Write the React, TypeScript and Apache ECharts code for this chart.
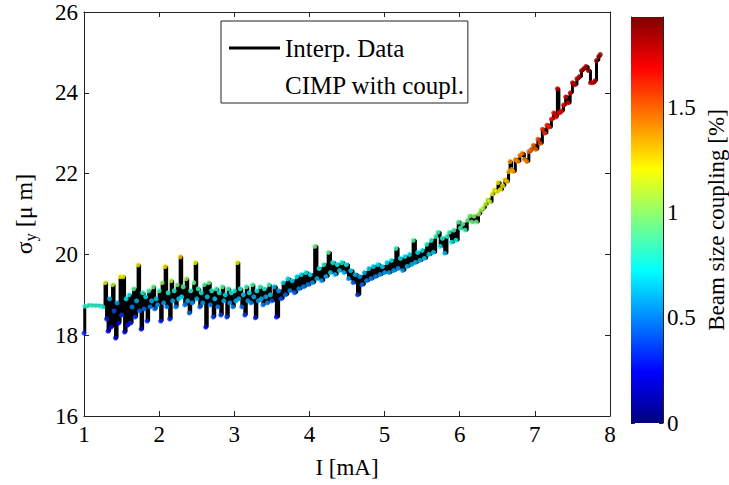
import React, { useEffect, useRef } from "react";
import * as echarts from "echarts";

const FONT = "'Liberation Serif', 'Times New Roman', serif";

// Beam current I [mA]
const currentmA = [
  1.00, 1.01, 1.06, 1.11, 1.16, 1.21, 1.25,
  1.28, 1.30, 1.32, 1.34, 1.36, 1.38, 1.40, 1.42, 1.44, 1.46,
  1.48, 1.50, 1.52, 1.54, 1.56, 1.58, 1.60, 1.62, 1.64, 1.66,
  1.68, 1.70, 1.72, 1.74, 1.76, 1.78, 1.80, 1.82, 1.84, 1.86,
  1.88, 1.90, 1.92, 1.94, 1.96, 1.98, 2.00, 2.02, 2.04, 2.06,
  2.08, 2.10, 2.12, 2.14, 2.16, 2.18, 2.20, 2.22, 2.24, 2.26,
  2.28, 2.30, 2.32, 2.34, 2.36, 2.38, 2.40, 2.42, 2.44, 2.46,
  2.48, 2.50, 2.52, 2.54, 2.56, 2.58, 2.60, 2.62, 2.64, 2.66,
  2.68, 2.70, 2.72, 2.74, 2.76, 2.78, 2.80, 2.82, 2.84, 2.86,
  2.88, 2.90, 2.92, 2.94, 2.96, 2.98, 3.00, 3.02, 3.04, 3.06,
  3.08, 3.10, 3.12, 3.14, 3.16, 3.18, 3.20, 3.22, 3.24, 3.26,
  3.28, 3.30, 3.32, 3.34, 3.36, 3.38, 3.40, 3.42, 3.44, 3.46,
  3.48,
  3.50, 3.53, 3.56, 3.59, 3.62, 3.65, 3.68, 3.71, 3.74, 3.77,
  3.80, 3.83, 3.86, 3.89, 3.92, 3.95, 3.98, 4.01, 4.04, 4.07,
  4.10, 4.13, 4.16, 4.19, 4.22, 4.25, 4.28, 4.31, 4.34, 4.37,
  4.40, 4.43, 4.46, 4.49, 4.52, 4.55, 4.58, 4.61, 4.64, 4.67,
  4.70, 4.73, 4.76, 4.79, 4.82, 4.85, 4.88, 4.91, 4.94, 4.97,
  5.00, 5.03, 5.06, 5.09, 5.12, 5.15, 5.18, 5.21, 5.24, 5.27,
  5.30, 5.33, 5.36, 5.38, 5.41, 5.44, 5.47, 5.50,
  5.53, 5.56, 5.59, 5.62, 5.65, 5.68, 5.71, 5.74, 5.77, 5.80,
  5.83, 5.86, 5.89, 5.92, 5.95, 5.98, 6.01, 6.04, 6.07, 6.10,
  6.13, 6.16, 6.19, 6.22, 6.25, 6.28, 6.31, 6.34, 6.37, 6.40,
  6.43, 6.46, 6.49, 6.51, 6.54, 6.57, 6.60, 6.63, 6.65, 6.67,
  6.69, 6.71, 6.74, 6.77, 6.80, 6.83, 6.86, 6.89, 6.92, 6.95,
  6.98, 7.01, 7.04, 7.07, 7.10, 7.13, 7.16, 7.19, 7.22, 7.25,
  7.28, 7.30, 7.32, 7.35, 7.38, 7.41, 7.44, 7.47, 7.50, 7.53,
  7.56, 7.59, 7.62, 7.65, 7.68, 7.71, 7.74, 7.77, 7.80, 7.82,
  7.85, 7.87,
];

// Vertical beam size sigma_y [um]
const sigmaY = [
  18.05, 18.72, 18.74, 18.73, 18.74, 18.72, 18.70,
  19.30, 18.40, 18.10, 18.90, 18.20, 19.25, 18.60, 17.93, 18.80, 18.30,
  19.45, 18.50, 19.45, 18.08, 18.90, 18.25, 19.00, 18.30, 18.70, 19.15,
  18.45, 18.85, 19.74, 18.60, 18.15, 19.05, 18.65, 18.95, 18.35, 19.10,
  18.70, 18.85, 19.20, 18.65, 18.90, 18.75, 19.10, 18.35, 19.30, 18.80,
  19.70, 18.70, 19.05, 18.40, 19.35, 18.85, 19.10, 18.70, 19.25, 18.90,
  19.94, 18.95, 19.20, 18.75, 19.40, 18.85, 18.55, 19.10, 18.80, 19.30,
  19.80, 18.90, 19.15, 18.70, 19.05, 18.80, 19.25, 18.20, 18.95, 19.30,
  18.75, 19.10, 18.45, 18.90, 19.15, 18.70, 19.05, 18.50, 19.20, 18.85,
  19.00, 18.45, 19.15, 18.80, 19.05, 18.70, 19.10, 18.85, 19.80, 18.90,
  19.15, 18.70, 19.00, 18.50, 19.20, 18.85, 19.05, 18.80, 19.25, 18.95,
  18.43, 19.10, 18.85, 19.20, 18.90, 18.75, 19.15, 18.95, 18.80, 19.25,
  19.00,
  18.85, 19.20, 18.45, 19.10, 18.90, 19.30, 19.00, 19.40, 19.10, 19.35,
  19.05, 19.45, 19.15, 19.50, 19.20, 19.55, 19.25, 19.50, 19.30, 20.20,
  19.40, 19.65, 19.35, 19.75, 19.45, 20.05, 19.55, 19.80, 19.50, 19.75,
  19.60, 19.80, 19.55, 19.75, 19.40, 19.60, 19.30, 19.50, 19.00, 19.45,
  19.25, 19.55, 19.35, 19.65, 19.40, 19.70, 19.45, 19.75, 19.50, 19.70,
  19.55, 19.80, 19.55, 19.85, 19.60, 20.15, 19.65, 19.90, 19.60, 19.95,
  19.70, 20.00, 19.75, 20.35, 19.80, 20.05, 19.85, 20.10,
  19.90, 20.25, 20.00, 20.35, 20.05, 20.45, 20.55, 20.20, 20.40, 20.03,
  20.45, 20.55, 20.30, 20.60, 20.35, 20.80, 20.65, 20.75, 20.60, 20.85,
  20.95, 20.80, 20.95, 20.80, 21.00, 21.10, 21.15, 21.25, 21.35, 21.30,
  21.50, 21.60, 21.55, 21.78, 21.60, 21.70, 21.85, 21.80, 22.05, 22.30,
  22.10, 22.05, 22.35, 22.30, 22.45, 22.50, 22.35, 22.30, 22.55, 22.60,
  22.70, 22.60, 22.85, 22.75, 23.10, 23.00, 23.20, 23.15, 23.35, 23.50,
  23.40, 24.10, 23.50, 23.55, 23.70, 23.90, 23.75, 24.00, 24.25, 24.20,
  24.35, 24.40, 24.55, 24.60, 24.65, 24.55, 24.25, 24.25, 24.30, 24.80,
  24.90, 24.95,
];

// Beam size coupling [%] measured by CIMP
const coupling = [
  0.30, 0.80, 0.82, 0.82, 0.80, 0.80, 0.78,
  1.15, 0.30, 0.20, 0.60, 0.25, 1.10, 0.40, 0.15, 0.55, 0.25,
  1.20, 0.35, 1.20, 0.20, 0.70, 0.25, 0.75, 0.30, 0.50, 0.90,
  0.35, 0.60, 1.25, 0.45, 0.20, 0.80, 0.45, 0.70, 0.30, 0.85,
  0.50, 0.60, 0.95, 0.45, 0.65, 0.55, 0.85, 0.30, 1.00, 0.55,
  1.25, 0.50, 0.80, 0.30, 1.05, 0.60, 0.80, 0.50, 0.95, 0.65,
  1.30, 0.70, 0.90, 0.50, 1.05, 0.60, 0.45, 0.80, 0.55, 0.95,
  1.20, 0.60, 0.85, 0.45, 0.75, 0.55, 0.90, 0.25, 0.65, 0.95,
  0.50, 0.80, 0.35, 0.65, 0.85, 0.50, 0.75, 0.35, 0.90, 0.60,
  0.70, 0.35, 0.85, 0.55, 0.75, 0.50, 0.80, 0.60, 1.20, 0.60,
  0.80, 0.45, 0.65, 0.35, 0.85, 0.55, 0.70, 0.50, 0.90, 0.60,
  0.30, 0.75, 0.55, 0.85, 0.60, 0.50, 0.80, 0.60, 0.50, 0.85,
  0.65,
  0.40, 0.60, 0.25, 0.55, 0.40, 0.65, 0.45, 0.70, 0.50, 0.65,
  0.45, 0.70, 0.50, 0.70, 0.50, 0.75, 0.50, 0.70, 0.55, 0.95,
  0.60, 0.75, 0.55, 0.80, 0.60, 0.90, 0.65, 0.75, 0.60, 0.75,
  0.65, 0.75, 0.60, 0.75, 0.55, 0.65, 0.45, 0.60, 0.35, 0.55,
  0.45, 0.60, 0.50, 0.65, 0.50, 0.65, 0.50, 0.70, 0.55, 0.65,
  0.55, 0.70, 0.55, 0.70, 0.55, 0.85, 0.55, 0.70, 0.55, 0.70,
  0.60, 0.70, 0.60, 0.90, 0.60, 0.70, 0.60, 0.70,
  0.65, 0.80, 0.65, 0.80, 0.65, 0.85, 0.85, 0.70, 0.80, 0.60,
  0.80, 0.85, 0.75, 0.85, 0.75, 0.90, 0.85, 0.90, 0.85, 0.95,
  0.98, 0.95, 1.00, 0.95, 1.02, 1.05, 1.08, 1.10, 1.12, 1.12,
  1.18, 1.20, 1.20, 1.25, 1.22, 1.25, 1.30, 1.30, 1.35, 1.42,
  1.38, 1.38, 1.42, 1.42, 1.45, 1.46, 1.44, 1.44, 1.48, 1.50,
  1.50, 1.50, 1.55, 1.55, 1.60, 1.60, 1.63, 1.63, 1.66, 1.68,
  1.68, 1.78, 1.70, 1.70, 1.72, 1.75, 1.74, 1.77, 1.80, 1.80,
  1.82, 1.83, 1.85, 1.86, 1.87, 1.86, 1.82, 1.82, 1.83, 1.90,
  1.90, 1.90,
];

const couplingMax = 1.933;
const colorbarTicks = [0, 0.5, 1, 1.5];
const jetColors = [
  "#000080", "#0000FF", "#0080FF", "#00FFFF", "#80FF80",
  "#FFFF00", "#FF8000", "#FF0000", "#800000",
];

export default function App() {
  const ref = useRef<HTMLDivElement>(null);

  useEffect(() => {
    if (!ref.current) return;
    const chart = echarts.init(ref.current, null, { renderer: "svg" });

    const lineData = currentmA.map((x, i) => [x, sigmaY[i]]);
    const scatterData = currentmA.map((x, i) => [x, sigmaY[i], coupling[i]]);

    const axisLineStyle = { color: "#222", width: 1 };
    const labelStyle = { fontSize: 23, color: "#000", fontFamily: FONT };

    const gradient = new echarts.graphic.LinearGradient(
      0, 1, 0, 0,
      jetColors.map((c, i) => ({ offset: i / (jetColors.length - 1), color: c }))
    );

    chart.setOption({
      animation: false,
      backgroundColor: "#fff",
      textStyle: { fontFamily: FONT, color: "#000" },
      grid: [
        { left: 84, top: 12, width: 526, height: 404, show: false },
        { left: 631, top: 17, width: 33, height: 406, show: false },
      ],
      xAxis: [
        {
          gridIndex: 0, type: "value", min: 1, max: 8, interval: 1, position: "bottom",
          name: "I [mA]", nameLocation: "middle", nameGap: 40,
          nameTextStyle: { ...labelStyle },
          axisLine: { show: true, onZero: false, lineStyle: axisLineStyle },
          axisTick: { show: true, inside: true, length: 5, lineStyle: axisLineStyle },
          axisLabel: { ...labelStyle, margin: 7 },
          splitLine: { show: false },
        },
        {
          gridIndex: 0, type: "value", min: 1, max: 8, interval: 1, position: "top",
          axisLine: { show: true, onZero: false, lineStyle: axisLineStyle },
          axisTick: { show: true, inside: true, length: 5, lineStyle: axisLineStyle },
          axisLabel: { show: false },
          splitLine: { show: false },
        },
        { gridIndex: 1, type: "category", data: ["cb"], show: false },
      ],
      yAxis: [
        {
          gridIndex: 0, type: "value", min: 16, max: 26, interval: 2, position: "left",
          name: "{s|σ}{sub|y}{s| [μ m]}", nameLocation: "middle", nameGap: 46,
          nameTextStyle: {
            rich: {
              s: { fontSize: 24, fontFamily: FONT, color: "#000" },
              sub: { fontSize: 16, fontFamily: FONT, color: "#000", padding: [12, 0, 0, 0] },
            },
          },
          axisLine: { show: true, onZero: false, lineStyle: axisLineStyle },
          axisTick: { show: true, inside: true, length: 5, lineStyle: axisLineStyle },
          axisLabel: { ...labelStyle, margin: 6 },
          splitLine: { show: false },
        },
        {
          gridIndex: 0, type: "value", min: 16, max: 26, interval: 2, position: "right",
          axisLine: { show: true, onZero: false, lineStyle: axisLineStyle },
          axisTick: { show: true, inside: true, length: 5, lineStyle: axisLineStyle },
          axisLabel: { show: false },
          splitLine: { show: false },
        },
        {
          gridIndex: 1, type: "value", min: 0, max: couplingMax, interval: 0.5, position: "right",
          name: "Beam size coupling [%]", nameLocation: "middle", nameGap: 42,
          nameTextStyle: { ...labelStyle },
          axisLine: { show: true, onZero: false, lineStyle: axisLineStyle },
          axisTick: { show: true, inside: true, length: 4, lineStyle: axisLineStyle },
          axisLabel: {
            ...labelStyle, margin: 4, showMaxLabel: false,
            formatter: (v: number) => (colorbarTicks.includes(v) ? String(v) : ""),
          },
          splitLine: { show: false },
        },
        {
          gridIndex: 1, type: "value", min: 0, max: couplingMax, interval: 0.5, position: "left",
          axisLine: { show: true, onZero: false, lineStyle: axisLineStyle },
          axisTick: { show: true, inside: true, length: 4, lineStyle: axisLineStyle },
          axisLabel: { show: false },
          splitLine: { show: false },
        },
      ],
      visualMap: {
        type: "continuous", show: false, seriesIndex: 1, dimension: 2,
        min: 0, max: couplingMax, inRange: { color: jetColors },
      },
      legend: {
        orient: "vertical", left: 221, top: 21, padding: [13, 3, 4, 8],
        itemWidth: 51, itemHeight: 3, itemGap: 9,
        borderColor: "#222", borderWidth: 1, backgroundColor: "#fff",
        selectedMode: false,
        textStyle: { fontSize: 25, fontFamily: FONT, color: "#000", lineHeight: 28 },
        data: [
          { name: "Interp. Data", icon: "rect", itemStyle: { color: "#000" } },
          { name: "CIMP with coupl.", icon: "rect", itemStyle: { opacity: 0 } },
        ],
      },
      series: [
        {
          name: "Interp. Data", type: "line", xAxisIndex: 0, yAxisIndex: 0,
          step: "end", symbol: "none", showSymbol: false,
          lineStyle: { color: "#000", width: 3 }, itemStyle: { color: "#000" },
          data: lineData, z: 2,
        },
        {
          name: "CIMP with coupl.", type: "scatter", xAxisIndex: 0, yAxisIndex: 0,
          symbol: "circle", symbolSize: 5, data: scatterData, z: 3,
        },
        {
          type: "bar", xAxisIndex: 2, yAxisIndex: 2, data: [couplingMax],
          barWidth: "100%", silent: true, itemStyle: { color: gradient },
        },
      ],
    });

    return () => chart.dispose();
  }, []);

  return (
    <div style={{ position: "absolute", left: 0, top: 0 }}>
      <div ref={ref} style={{ width: 729, height: 485 }} />
    </div>
  );
}
